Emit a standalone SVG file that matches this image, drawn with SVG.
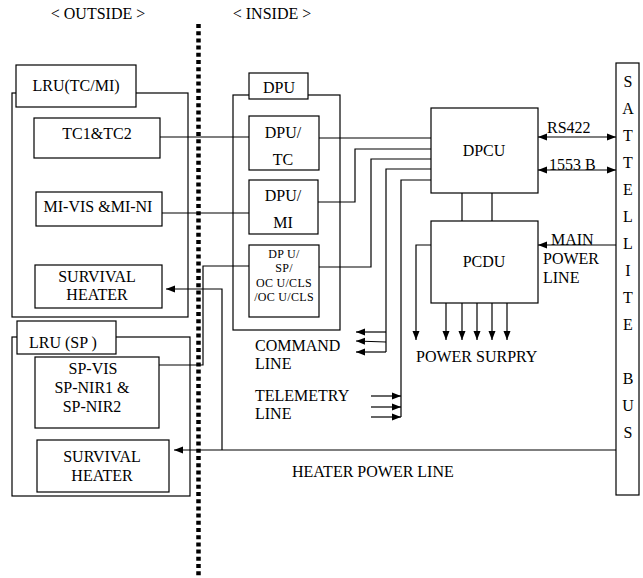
<svg xmlns="http://www.w3.org/2000/svg" width="643" height="578" viewBox="0 0 643 578" font-family="'Liberation Serif', 'Times New Roman', Tinos, 'DejaVu Serif', serif">
<style>
text{font-family:'Liberation Serif','Times New Roman',Tinos,'DejaVu Serif',serif;font-size:16px;fill:#000}
.c{text-anchor:middle}
.s{font-size:12px;letter-spacing:0.3px}
.box{fill:#fff;stroke:#000;stroke-width:1.2}
.cont{fill:none;stroke:#000;stroke-width:1.2}
.ln{fill:none;stroke:#000;stroke-width:1.2}
.arr{marker-end:url(#ah)}
.dbl{marker-start:url(#ah);marker-end:url(#ah)}
</style>
<defs>
<marker id="ah" markerUnits="userSpaceOnUse" markerWidth="10" markerHeight="8" refX="9" refY="4" orient="auto-start-reverse">
<path d="M0,0.5 L9,4 L0,7.5 Z" fill="#000"/>
</marker>
</defs>
<rect width="643" height="578" fill="#fff"/>
<text class="c" x="98" y="19">&lt; OUTSIDE &gt;</text>
<text class="c" x="272" y="19">&lt; INSIDE &gt;</text>
<line id="boundary" x1="198.5" y1="24" x2="198.5" y2="578" stroke="#000" stroke-width="4.5" stroke-dasharray="4 3.2"/>

<g id="lru-tcmi-container"><rect class="cont" x="12" y="93" width="176" height="224"/></g>
<g id="lru-sp-container"><rect class="cont" x="12" y="337" width="178" height="159"/></g>
<g id="dpu-container"><rect class="cont" x="233" y="95" width="107" height="235"/></g>

<g id="connectors">
<line class="ln" x1="160" y1="137" x2="249" y2="137"/>
<line class="ln" x1="162" y1="213" x2="249" y2="213"/>
<polyline class="ln" points="249,266 203,266 203,365 159,365"/>
<line class="ln" x1="319" y1="138" x2="431" y2="138"/>
<polyline class="ln" points="318,202 355,202 355,149 431,149"/>
<polyline class="ln" points="319,267 371,267 371,159 431,159"/>
<polyline class="ln" points="431,169 386,169 386,352"/>
<line class="ln arr" x1="386" y1="332" x2="356" y2="332"/>
<line class="ln arr" x1="386" y1="342" x2="356" y2="341"/>
<line class="ln arr" x1="386" y1="352" x2="356" y2="352"/>
<polyline class="ln" points="431,180 401,180 401,417"/>
<line class="ln arr" x1="371" y1="396" x2="401" y2="396"/>
<line class="ln arr" x1="371" y1="407" x2="401" y2="407"/>
<line class="ln arr" x1="371" y1="417" x2="401" y2="417"/>
<line class="ln" x1="462" y1="193" x2="462" y2="221"/>
<line class="ln" x1="492" y1="193" x2="492" y2="221"/>
<line class="ln dbl" x1="538" y1="137" x2="616" y2="137"/>
<line class="ln dbl" x1="538" y1="170" x2="616" y2="170"/>
<line class="ln arr" x1="616" y1="245" x2="538" y2="245"/>
<polyline class="ln arr" points="431,245 416,245 416,340"/>
<line class="ln arr" x1="446" y1="303" x2="446" y2="340"/>
<line class="ln arr" x1="462" y1="303" x2="462" y2="340"/>
<line class="ln arr" x1="477" y1="303" x2="477" y2="340"/>
<line class="ln arr" x1="492" y1="303" x2="492" y2="340"/>
<line class="ln arr" x1="507" y1="303" x2="507" y2="340"/>
<line class="ln arr" x1="616" y1="450" x2="174" y2="450"/>
<polyline class="ln arr" points="222,450 222,289 166,289"/>
</g>

<g id="lru-tcmi"><rect class="box" x="16" y="65" width="120" height="42"/><text class="c" x="76" y="91">LRU(TC/MI)</text></g>
<g id="tc1tc2"><rect class="box" x="34" y="118" width="126" height="40"/><text class="c" x="97" y="139">TC1&amp;TC2</text></g>
<g id="mi-vis"><rect class="box" x="36" y="192" width="126" height="34"/><text class="c" x="98" y="212">MI-VIS &amp;MI-NI</text></g>
<g id="heater1"><rect class="box" x="35" y="265" width="127" height="43"/><text class="c" x="97" y="282">SURVIVAL</text><text class="c" x="97" y="300">HEATER</text></g>
<g id="lru-sp"><rect class="box" x="17" y="321" width="99" height="33"/><text x="29" y="348">LRU (SP )</text></g>
<g id="sp-vis"><rect class="box" x="35" y="357" width="124" height="71"/><text class="c" x="93" y="374">SP-VIS</text><text class="c" x="92" y="393">SP-NIR1 &amp;</text><text class="c" x="92" y="412">SP-NIR2</text></g>
<g id="heater2"><rect class="box" x="37" y="440" width="132" height="52"/><text class="c" x="102" y="462">SURVIVAL</text><text class="c" x="102" y="481">HEATER</text></g>

<g id="dpu"><rect class="box" x="249" y="73" width="59" height="26"/><text class="c" x="279" y="93">DPU</text></g>
<g id="dpu-tc"><rect class="box" x="249" y="116" width="70" height="54"/><text class="c" x="283" y="138">DPU/</text><text class="c" x="283" y="165">TC</text></g>
<g id="dpu-mi"><rect class="box" x="249" y="180" width="69" height="54"/><text class="c" x="283" y="201">DPU/</text><text class="c" x="283" y="228">MI</text></g>
<g id="dpu-sp"><rect class="box" x="249" y="245" width="70" height="72"/>
<text class="c s" x="284" y="258">DP U/</text><text class="c s" x="284" y="272">SP/</text><text class="c s" x="284" y="287">OC U/CLS</text><text class="c s" x="284" y="301">/OC U/CLS</text></g>

<g id="dpcu"><rect class="box" x="431" y="108" width="107" height="85"/><text class="c" x="484" y="156">DPCU</text></g>
<g id="pcdu"><rect class="box" x="431" y="221" width="107" height="82"/><text class="c" x="484" y="267">PCDU</text></g>
<g id="satellite-bus"><rect class="box" x="616" y="63" width="23" height="432"/>
<text class="c" x="628" y="87">S</text><text class="c" x="628" y="114">A</text><text class="c" x="628" y="141">T</text><text class="c" x="628" y="168">T</text><text class="c" x="628" y="195">E</text><text class="c" x="628" y="222">L</text><text class="c" x="628" y="249">L</text><text class="c" x="628" y="276">I</text><text class="c" x="628" y="303">T</text><text class="c" x="628" y="330">E</text><text class="c" x="628" y="384">B</text><text class="c" x="628" y="411">U</text><text class="c" x="628" y="438">S</text></g>

<g id="labels">
<text x="547" y="133">RS422</text>
<text x="549" y="170">1553 B</text>
<text x="551" y="245">MAIN</text>
<text x="543" y="264">POWER</text>
<text x="543" y="283">LINE</text>
<text x="416" y="362">POWER SURPRY</text>
<text x="255" y="351">COMMAND</text>
<text x="255" y="369">LINE</text>
<text x="255" y="401">TELEMETRY</text>
<text x="255" y="419">LINE</text>
<text x="292" y="477">HEATER POWER LINE</text>
</g>
</svg>
